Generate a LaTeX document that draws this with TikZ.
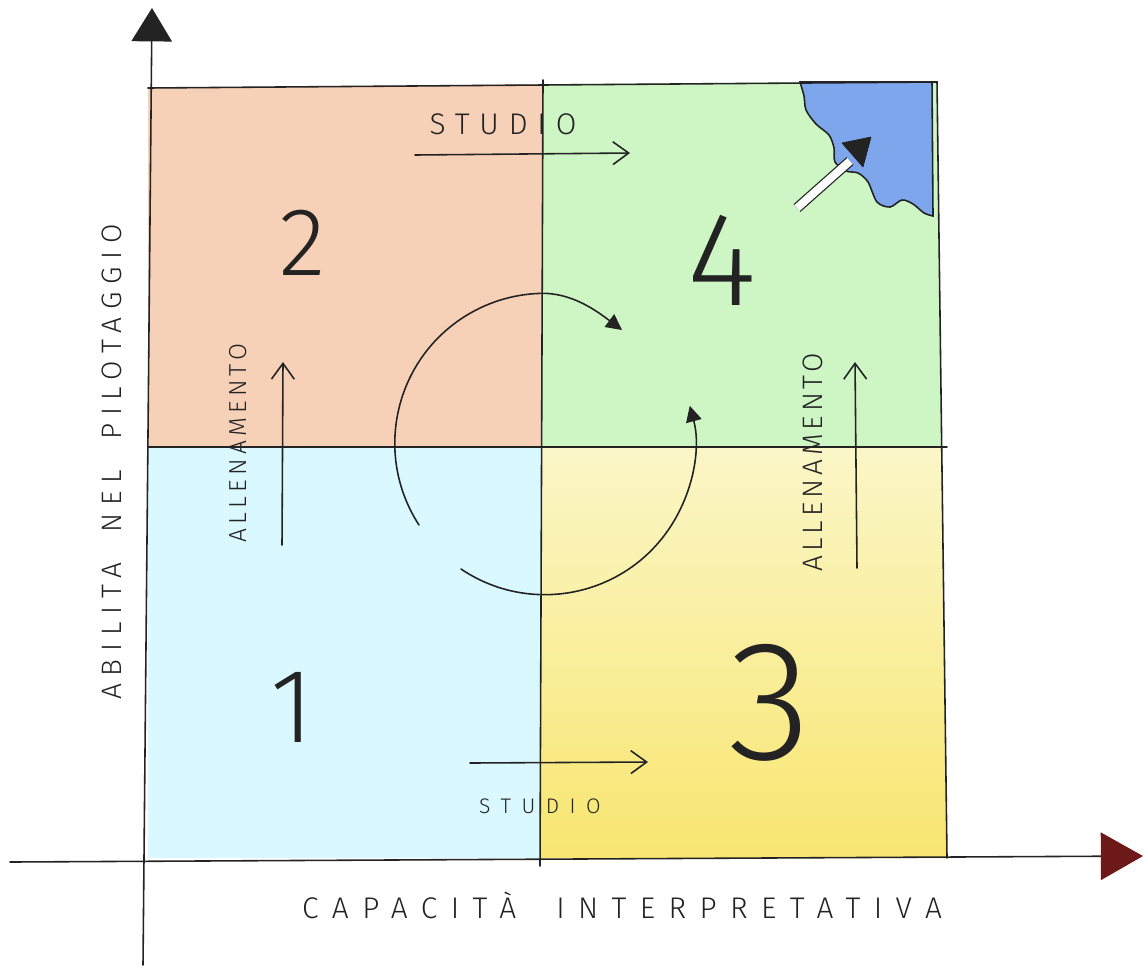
\documentclass[tikz,border=0pt]{standalone}
\usepackage{fontspec}
\usetikzlibrary{arrows.meta}

\newfontfamily\sottile{Fira Sans Light}

\definecolor{pesca}{RGB}{247,208,184}
\definecolor{verde}{RGB}{205,246,196}
\definecolor{celeste}{RGB}{218,248,255}
\definecolor{giallochiaro}{RGB}{251,246,200}
\definecolor{giallo}{RGB}{248,230,112}
\definecolor{blu}{RGB}{126,166,236}
\definecolor{matita}{RGB}{35,35,35}
\definecolor{rossoscuro}{RGB}{110,25,25}

\tikzset{
tratto/.style={draw=matita, line width=0.9pt, line cap=round},
freccia/.style={tratto, -{Straight Barb[length=9pt,width=13pt]}},
giro/.style={tratto, -{Triangle[length=9pt,width=9pt]}},
scritta/.style 2 args={text=matita, inner sep=0pt,
  font=\sottile\fontsize{#1}{#1}\selectfont\addfontfeatures{LetterSpace=#2}},
cifra/.style={text=matita, inner sep=0pt,
  font=\sottile\fontsize{#1}{#1}\selectfont}
}

\begin{document}
\begin{tikzpicture}[x=0.02cm,y=-0.02cm]
\useasboundingbox (0,0) rectangle (1148,971);

% Quadranti
\fill[pesca] (148,88) -- (543,84) -- (542,447) -- (148,447) -- cycle;
\fill[verde] (543,84) -- (937,82) -- (942,447) -- (542,447) -- cycle;
\fill[celeste] (148,447) rectangle (541,858);
\shade[top color=giallochiaro, bottom color=giallo]
(542,447) -- (942,447) -- (947,858) -- (541,858) -- cycle;

% Angolo blu
\filldraw[fill=blu, tratto] plot[smooth] coordinates {
(800,82) (804,96) (806,110) (816,124) (829,135)
(834,148) (835,162) (846,171) (858,173) (868,182)
(877,202) (890,207) (902,200) (913,204) (924,213) (933,216)
} -- (932,82) -- cycle;

% Quadrato
\draw[tratto] (148,88) -- (937,82) -- (947,858);
\draw[tratto] (148,447) -- (947,447);
\draw[tratto] (543,80) -- (540,866);

% Assi
\coordinate (ybasso) at (143,965);
\coordinate (yalto) at (152,8);
\coordinate (xsin) at (10,862);
\coordinate (xdes) at (1143,856);
\draw[tratto, -{Triangle[length=19pt,width=23pt]}] (ybasso) -- (yalto);
\draw[tratto, -{Triangle[length=24pt,width=27pt,color=rossoscuro]}] (xsin) -- (xdes);

% Numeri
\node[cifra=55] (due) at (303,243) {2};
\node[cifra=76] (quattro) at (722,260) {4};
\node[cifra=60] (uno) at (292,707) {1};
\node[cifra=97] (tre) at (770,703) {3};

% Studio
\node[scritta={17}{33}] (studiosopra) at (503,124) {STUDIO};
\coordinate (s1) at (415,155);
\coordinate (s2) at (630,153);
\draw[freccia] (s1) -- (s2);

\node[scritta={12}{50}] (studiosotto) at (540,806) {STUDIO};
\coordinate (s3) at (470,763);
\coordinate (s4) at (648,762);
\draw[freccia] (s3) -- (s4);

% Allenamento
\node[scritta={14}{17}, rotate=90] (allsx) at (238,443) {ALLENAMENTO};
\coordinate (a1) at (282,545);
\coordinate (a2) at (283,362);
\draw[freccia] (a1) -- (a2);

\node[scritta={16}{14}, rotate=90] (alldx) at (813,462) {ALLENAMENTO};
\coordinate (a3) at (857,568);
\coordinate (a4) at (855,362);
\draw[freccia] (a3) -- (a4);

% Ciclo
\coordinate (g1) at (419,525);
\coordinate (f1) at (622,330);
\draw[giro] (g1) arc[start angle=147, end angle=268, radius=150]
.. controls (572,292) and (598,312) .. (f1);

\coordinate (g2) at (461,569);
\draw[giro] (g2) arc[start angle=124, end angle=-15, radius=150];

% Freccia doppia
\coordinate (d1) at (797,208);
\coordinate (d2) at (850,161);
\draw[matita, line width=0.7pt, double=white, double distance=4.5pt] (d1) -- (d2);
\filldraw[matita, line join=round] (842,143) -- (871,137) -- (863,167) -- cycle;

% Etichette degli assi
\node[scritta={16}{28}, rotate=90] (ordinate) at (112,462)
{ABILITA\hspace{0.6cm}NEL\hspace{0.6cm}PILOTAGGIO};
\node[scritta={17}{45}] (ascisse) at (622,905)
{CAPACITÀ\hspace{0.8cm}INTERPRETATIVA};

\end{tikzpicture}
\end{document}
